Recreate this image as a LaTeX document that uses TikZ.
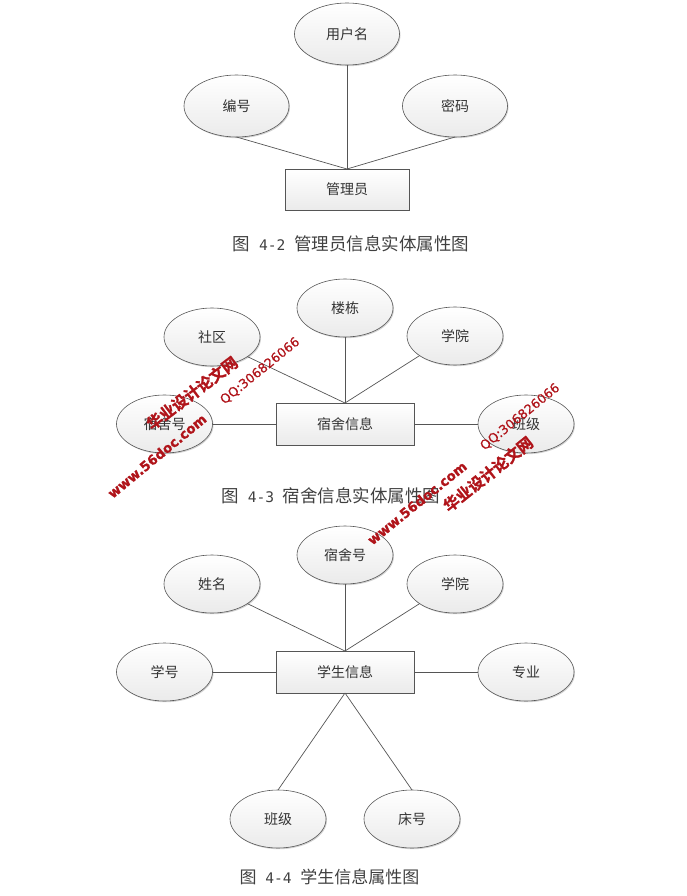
\documentclass[tikz,border=0pt]{standalone}
\usepackage{fontspec}
\setmainfont{Noto Sans CJK SC}
\newfontfamily\digi{DejaVu Sans Mono}
\newfontfamily\wmfont[FakeBold=1.2]{DejaVu Sans Bold}
\newfontfamily\wmqq[FakeBold=0.6]{DejaVu Sans}
\newfontfamily\wmcjk[FakeBold=1.5]{Noto Sans CJK SC Bold}
\usetikzlibrary{shapes.geometric,shadows}
\definecolor{lin}{HTML}{555555}
\definecolor{wm}{HTML}{B0141A}
\newcommand{\capnum}[1]{{\digi\fontsize{14.6pt}{16pt}\selectfont\ #1\ }}
\tikzset{
  x=1pt,y=-1pt,
  base/.style={draw=lin,line width=.6pt,top color=white,bottom color=black!8,
    inner sep=0pt,outer sep=0pt,text=black!80,font=\fontsize{14pt}{16pt}\selectfont,
    drop shadow={shadow xshift=1pt,shadow yshift=-1.2pt,fill=black,opacity=.18}},
  attr/.style={base,ellipse,minimum width=96pt,minimum height=58pt},
  attrbig/.style={base,ellipse,minimum width=105pt,minimum height=62pt},
  ent/.style={base,rectangle,minimum width=138pt,minimum height=42pt},
  link/.style={draw=lin,line width=.7pt},
  captext/.style={inner sep=0pt,text=black!75,font=\fontsize{17.5pt}{20pt}\selectfont},
  wmtext/.style={inner sep=0pt,text=wm,font=\wmfont\fontsize{13.4pt}{16pt}\selectfont},
  wmnum/.style={inner sep=0pt,text=wm,font=\wmqq\fontsize{12.8pt}{16pt}\selectfont},
  wmcn/.style={inner sep=0pt,text=wm,font=\wmcjk\fontsize{15.6pt}{18pt}\selectfont}
}
\begin{document}
\begin{tikzpicture}
\useasboundingbox (0,0) rectangle (687,896);
% --- figure 4-2
\node[attrbig] (a1) at (347,34) {用户名};
\node[attrbig] (a2) at (236.5,106) {编号};
\node[attrbig] (a3) at (455,106) {密码};
\node[ent,minimum width=124pt,minimum height=41pt] (r1) at (347,189.5) {管理员};
\draw[link] (a1.south) -- (r1.north);
\draw[link] (a2.south) -- (r1.north);
\draw[link] (a3.south) -- (r1.north);
\node[captext] (c1) at (351,244) {图\capnum{4-2}管理员信息实体属性图};
% --- figure 4-3
\node[attr] (b1) at (212,337) {社区};
\node[attr] (b2) at (345,308) {楼栋};
\node[attr] (b3) at (455,336) {学院};
\node[attr] (b4) at (164.5,424) {宿舍号};
\node[attr] (b5) at (526,424) {班级};
\node[ent] (r2) at (345,424) {宿舍信息};
\draw[link] (b1.-29) -- (r2.north);
\draw[link] (b2.south) -- (r2.north);
\draw[link] (b3.209) -- (r2.north);
\draw[link] (b4.east) -- (r2.west);
\draw[link] (b5.west) -- (r2.east);
\node[captext] (c2) at (331,496) {图\capnum{4-3}宿舍信息实体属性图};
% --- figure 4-4
\node[attr] (d1) at (212,584) {姓名};
\node[attr] (d2) at (345,555) {宿舍号};
\node[attr] (d3) at (455,584) {学院};
\node[attr] (d4) at (164.5,672) {学号};
\node[attr] (d5) at (526,672) {专业};
\node[ent] (r3) at (345,672) {学生信息};
\node[attr] (d6) at (278,819) {班级};
\node[attr] (d7) at (412,819) {床号};
\draw[link] (d1.-29) -- (r3.north);
\draw[link] (d2.south) -- (r3.north);
\draw[link] (d3.209) -- (r3.north);
\draw[link] (d4.east) -- (r3.west);
\draw[link] (d5.west) -- (r3.east);
\draw[link] (d6.north) -- (r3.south);
\draw[link] (d7.north) -- (r3.south);
\node[captext,font=\fontsize{17pt}{20pt}\selectfont] (c3) at (329.5,877) {图\capnum{4-4}学生信息属性图};
% --- watermarks
\node[wmcn,rotate=37] (w1) at (192,393) {华业设计论文网};
\node[wmtext,rotate=39.5] (w2) at (157,456) {www.56doc.com};
\node[wmnum,rotate=39] (w3) at (260,371) {QQ:306826066};
\node[wmcn,rotate=38.5] (w4) at (488,474) {华业设计论文网};
\node[wmtext,rotate=39] (w5) at (417,503) {www.56doc.com};
\node[wmnum,rotate=39] (w6) at (520,417) {QQ:306826066};
\end{tikzpicture}
\end{document}
